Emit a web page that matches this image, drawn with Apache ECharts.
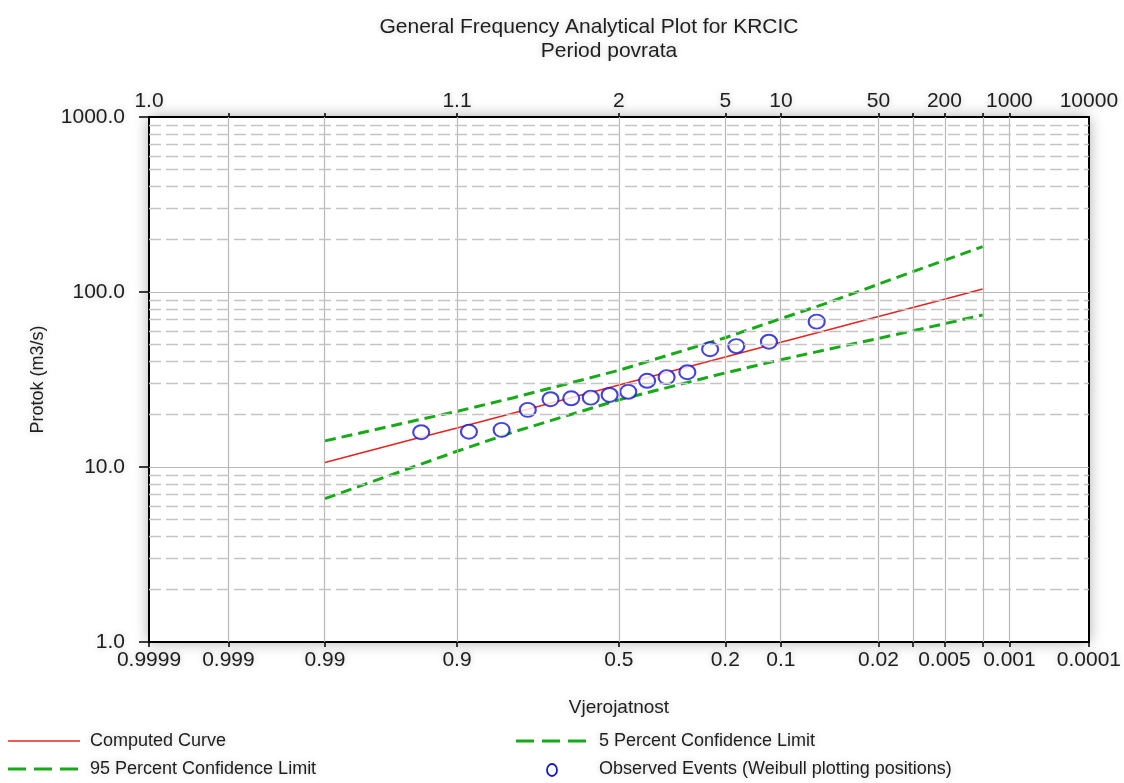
<!DOCTYPE html>
<html>
<head>
<meta charset="utf-8">
<script src="https://cdn.jsdelivr.net/npm/echarts@6/dist/echarts.min.js"></script>
<style>
html,body{margin:0;padding:0;background:#fff;}
#chart{width:1124px;height:783px;}
</style>
</head>
<body>
<div id="chart"></div>
<script>
// ---------------- data ----------------
const bottomLabels = ['0.9999','0.999','0.99','0.9','0.5','0.2','0.1','0.02','0.005','0.001','0.0001'];
const topLabels = ['1.0','1.1','2','5','10','50','200','1000','10000'];
const topLabelProbs = [0.9999, 0.9, 0.5, 0.2, 0.1, 0.02, 0.005, 0.001, 0.0001];
const gridProbs = [0.999, 0.99, 0.9, 0.5, 0.2, 0.1, 0.02, 0.01, 0.005, 0.002, 0.001];
const yLabels = [1, 10, 100, 1000];
const yMinorLines = [2,3,4,5,6,7,8,9,20,30,40,50,60,70,80,90,200,300,400,500,600,700,800,900];

const curveProbs = [0.99, 0.95, 0.9, 0.8, 0.5, 0.2, 0.1, 0.05, 0.02, 0.01, 0.005, 0.002];
const computedCurve = [10.6, 14.3, 16.7, 20.3, 29.4, 42.5, 51.6, 60.5, 72.4, 81.5, 91.0, 103.9];
const conf5 = [14.1, 18.2, 20.8, 24.8, 35.7, 54.8, 70.4, 86.4, 110.8, 130.7, 151.7, 181.8];
const conf95 = [6.6, 9.9, 12.3, 15.8, 24.2, 34.5, 41.0, 46.9, 54.3, 60.0, 65.9, 73.9];

const obsProbs = [0.0588, 0.1176, 0.1765, 0.2353, 0.2941, 0.3529, 0.4118, 0.4706, 0.5294, 0.5882, 0.6471, 0.7059, 0.7647, 0.8235, 0.8824, 0.9412];
const observed = [67.7, 52.0, 49.1, 47.1, 34.8, 32.6, 31.1, 26.9, 25.8, 24.9, 24.7, 24.4, 21.2, 16.3, 15.9, 15.8];

const seriesNames = ['Computed Curve', '95 Percent Confidence Limit', '5 Percent Confidence Limit', 'Observed Events (Weibull plotting positions)'];

// ---------------- probability scale ----------------
function normInv(p) {
  const a=[-3.969683028665376e+01,2.209460984245205e+02,-2.759285104469687e+02,1.383577518672690e+02,-3.066479806614716e+01,2.506628277459239e+00];
  const b=[-5.447609879822406e+01,1.615858368580409e+02,-1.556989798598866e+02,6.680131188771972e+01,-1.328068155288572e+01];
  const c=[-7.784894002430293e-03,-3.223964580411365e-01,-2.400758277161838e+00,-2.549732539343734e+00,4.374664141464968e+00,2.938163982698783e+00];
  const d=[7.784695709041462e-03,3.224671290700398e-01,2.445134137142996e+00,3.754408661907416e+00];
  const pl = 0.02425, ph = 1 - pl;
  let q, r;
  if (p < pl) {
    q = Math.sqrt(-2 * Math.log(p));
    return (((((c[0]*q+c[1])*q+c[2])*q+c[3])*q+c[4])*q+c[5]) / ((((d[0]*q+d[1])*q+d[2])*q+d[3])*q+1);
  }
  if (p <= ph) {
    q = p - 0.5; r = q * q;
    return (((((a[0]*r+a[1])*r+a[2])*r+a[3])*r+a[4])*r+a[5])*q / (((((b[0]*r+b[1])*r+b[2])*r+b[3])*r+b[4])*r+1);
  }
  q = Math.sqrt(-2 * Math.log(1 - p));
  return -(((((c[0]*q+c[1])*q+c[2])*q+c[3])*q+c[4])*q+c[5]) / ((((d[0]*q+d[1])*q+d[2])*q+d[3])*q+1);
}
// exceedance probability -> axis coordinate (standard normal variate)
function toZ(pExc) { return normInv(1 - pExc); }

const zMin = toZ(0.9999), zMax = toZ(0.0001);
const bottomLabelZ = bottomLabels.map(s => toZ(parseFloat(s)));
const topLabelZ = topLabelProbs.map(toZ);
const gridZ = gridProbs.map(toZ);

function labelFor(v, zs, labels) {
  for (let i = 0; i < zs.length; i++) if (Math.abs(zs[i] - v) < 1e-6) return labels[i];
  return '';
}

const FONT = 'Liberation Sans, Arial, sans-serif';
const TXT = '#1e1e1e';
const RED = '#e8231f', GREEN = '#17aa17', BLUE = '#1414d4';
const SH = 'rgba(0,0,0,0.22)';
const glow = { textShadowColor: SH, textShadowBlur: 6 };

const gridLineData = gridZ.map(z => ({ xAxis: z, lineStyle: { color: '#b8b8b8', width: 1.2, type: 'solid' } }))
  .concat([10, 100].map(v => ({ yAxis: v, lineStyle: { color: '#b8b8b8', width: 1.2, type: 'solid' } })))
  .concat(yMinorLines.map(v => ({ yAxis: v, lineStyle: { color: '#c4c4c4', width: 1.4, type: [12, 5] } })));

// legend drawn as graphic items
function legendText(x, y, t) {
  return { type: 'text', x: x, y: y, silent: true,
    style: { text: t, fill: TXT, font: '18px ' + FONT, verticalAlign: 'middle', align: 'left', textShadowColor: SH, textShadowBlur: 6 } };
}
const legendGraphics = [
  { type: 'line', silent: true, shape: { x1: 8, y1: 741, x2: 80, y2: 741 }, style: { stroke: RED, lineWidth: 1.5 } },
  legendText(90, 741, seriesNames[0]),
  { type: 'line', silent: true, shape: { x1: 8, y1: 769, x2: 80, y2: 769 }, style: { stroke: GREEN, lineWidth: 3, lineDash: [18, 8] } },
  legendText(90, 769, seriesNames[1]),
  { type: 'line', silent: true, shape: { x1: 516, y1: 741, x2: 588, y2: 741 }, style: { stroke: GREEN, lineWidth: 3, lineDash: [18, 8] } },
  legendText(599, 741, seriesNames[2]),
  { type: 'ellipse', silent: true, shape: { cx: 552, cy: 770, rx: 5, ry: 6 }, style: { stroke: BLUE, fill: '#fff', lineWidth: 1.8 } },
  legendText(599, 769, seriesNames[3])
];

const chart = echarts.init(document.getElementById('chart'), null, { renderer: 'canvas' });
chart.setOption({
  animation: false,
  backgroundColor: '#fff',
  textStyle: { fontFamily: FONT },
  title: [
    { text: 'General Frequency Analytical Plot for KRCIC', left: 589, top: 17, textAlign: 'center', padding: 0,
      textStyle: Object.assign({ fontSize: 21, fontWeight: 'normal', color: TXT, fontFamily: FONT }, glow) },
    { text: 'Period povrata', left: 609, top: 41, textAlign: 'center', padding: 0,
      textStyle: Object.assign({ fontSize: 21, fontWeight: 'normal', color: TXT, fontFamily: FONT }, glow) }
  ],
  graphic: legendGraphics,
  grid: { left: 149, right: 34, top: 117, bottom: 141, show: true, backgroundColor: '#fff', borderWidth: 0,
          shadowBlur: 14, shadowColor: 'rgba(0,0,0,0.35)' },
  xAxis: [
    { type: 'value', position: 'bottom', min: zMin, max: zMax,
      name: 'Vjerojatnost', nameLocation: 'middle', nameGap: 56,
      nameTextStyle: Object.assign({ fontSize: 19, color: TXT, fontFamily: FONT }, glow),
      axisLine: { show: true, onZero: false, lineStyle: { color: '#000', width: 2 } },
      axisTick: { show: true, inside: false, length: 5, customValues: [zMin].concat(gridZ, [zMax]), lineStyle: { color: '#000', width: 1.5 } },
      axisLabel: { show: true, customValues: bottomLabelZ, margin: 8, fontSize: 21, color: TXT, fontFamily: FONT,
                   formatter: v => labelFor(v, bottomLabelZ, bottomLabels), textShadowColor: SH, textShadowBlur: 6 },
      splitLine: { show: false } },
    { type: 'value', position: 'top', min: zMin, max: zMax,
      axisLine: { show: true, onZero: false, lineStyle: { color: '#000', width: 2 } },
      axisTick: { show: true, inside: false, length: 4, customValues: gridZ, lineStyle: { color: '#000', width: 1.5 } },
      axisLabel: { show: true, customValues: topLabelZ, margin: 5, fontSize: 21, color: TXT, fontFamily: FONT,
                   formatter: v => labelFor(v, topLabelZ, topLabels), textShadowColor: SH, textShadowBlur: 6 },
      splitLine: { show: false } }
  ],
  yAxis: [
    { type: 'log', logBase: 10, min: 1, max: 1000, position: 'left',
      name: 'Protok (m3/s)', nameLocation: 'middle', nameGap: 102, nameRotate: 90,
      nameTextStyle: Object.assign({ fontSize: 18, color: TXT, fontFamily: FONT }, glow),
      axisLine: { show: true, onZero: false, lineStyle: { color: '#000', width: 2 } },
      axisTick: { show: true, inside: false, length: 10, customValues: yLabels, lineStyle: { color: '#000', width: 1.5 } },
      axisLabel: { customValues: yLabels, margin: 24, fontSize: 21, color: TXT, fontFamily: FONT,
                   formatter: v => Number(v).toFixed(1), textShadowColor: SH, textShadowBlur: 6 },
      splitLine: { show: false }, minorTick: { show: false } },
    { type: 'log', logBase: 10, min: 1, max: 1000, position: 'right',
      axisLine: { show: true, onZero: false, lineStyle: { color: '#000', width: 2 } },
      axisTick: { show: false }, axisLabel: { show: false }, splitLine: { show: false } }
  ],
  series: [
    { name: 'grid', type: 'line', xAxisIndex: 0, yAxisIndex: 0, z: 1, silent: true, symbol: 'none',
      data: [],
      markLine: { silent: true, symbol: ['none', 'none'], label: { show: false }, animation: false,
                  data: gridLineData } },
    { name: seriesNames[0], type: 'line', xAxisIndex: 0, yAxisIndex: 0, z: 3, symbol: 'none',
      lineStyle: { color: RED, width: 1.5 }, itemStyle: { color: RED },
      data: curveProbs.map((p, i) => [toZ(p), computedCurve[i]]) },
    { name: seriesNames[2], type: 'line', xAxisIndex: 0, yAxisIndex: 0, z: 3, symbol: 'none',
      lineStyle: { color: GREEN, width: 3, type: [11, 6] }, itemStyle: { color: GREEN },
      data: curveProbs.map((p, i) => [toZ(p), conf5[i]]) },
    { name: seriesNames[1], type: 'line', xAxisIndex: 0, yAxisIndex: 0, z: 3, symbol: 'none',
      lineStyle: { color: GREEN, width: 3, type: [11, 6] }, itemStyle: { color: GREEN },
      data: curveProbs.map((p, i) => [toZ(p), conf95[i]]) },
    { name: seriesNames[3], type: 'scatter', xAxisIndex: 0, yAxisIndex: 0, z: 4,
      symbol: 'emptyCircle', symbolSize: [16, 14],
      itemStyle: { color: BLUE, borderColor: BLUE, borderWidth: 1.9 },
      data: obsProbs.map((p, i) => [toZ(p), observed[i]]) }
  ]
});
</script>
</body>
</html>
